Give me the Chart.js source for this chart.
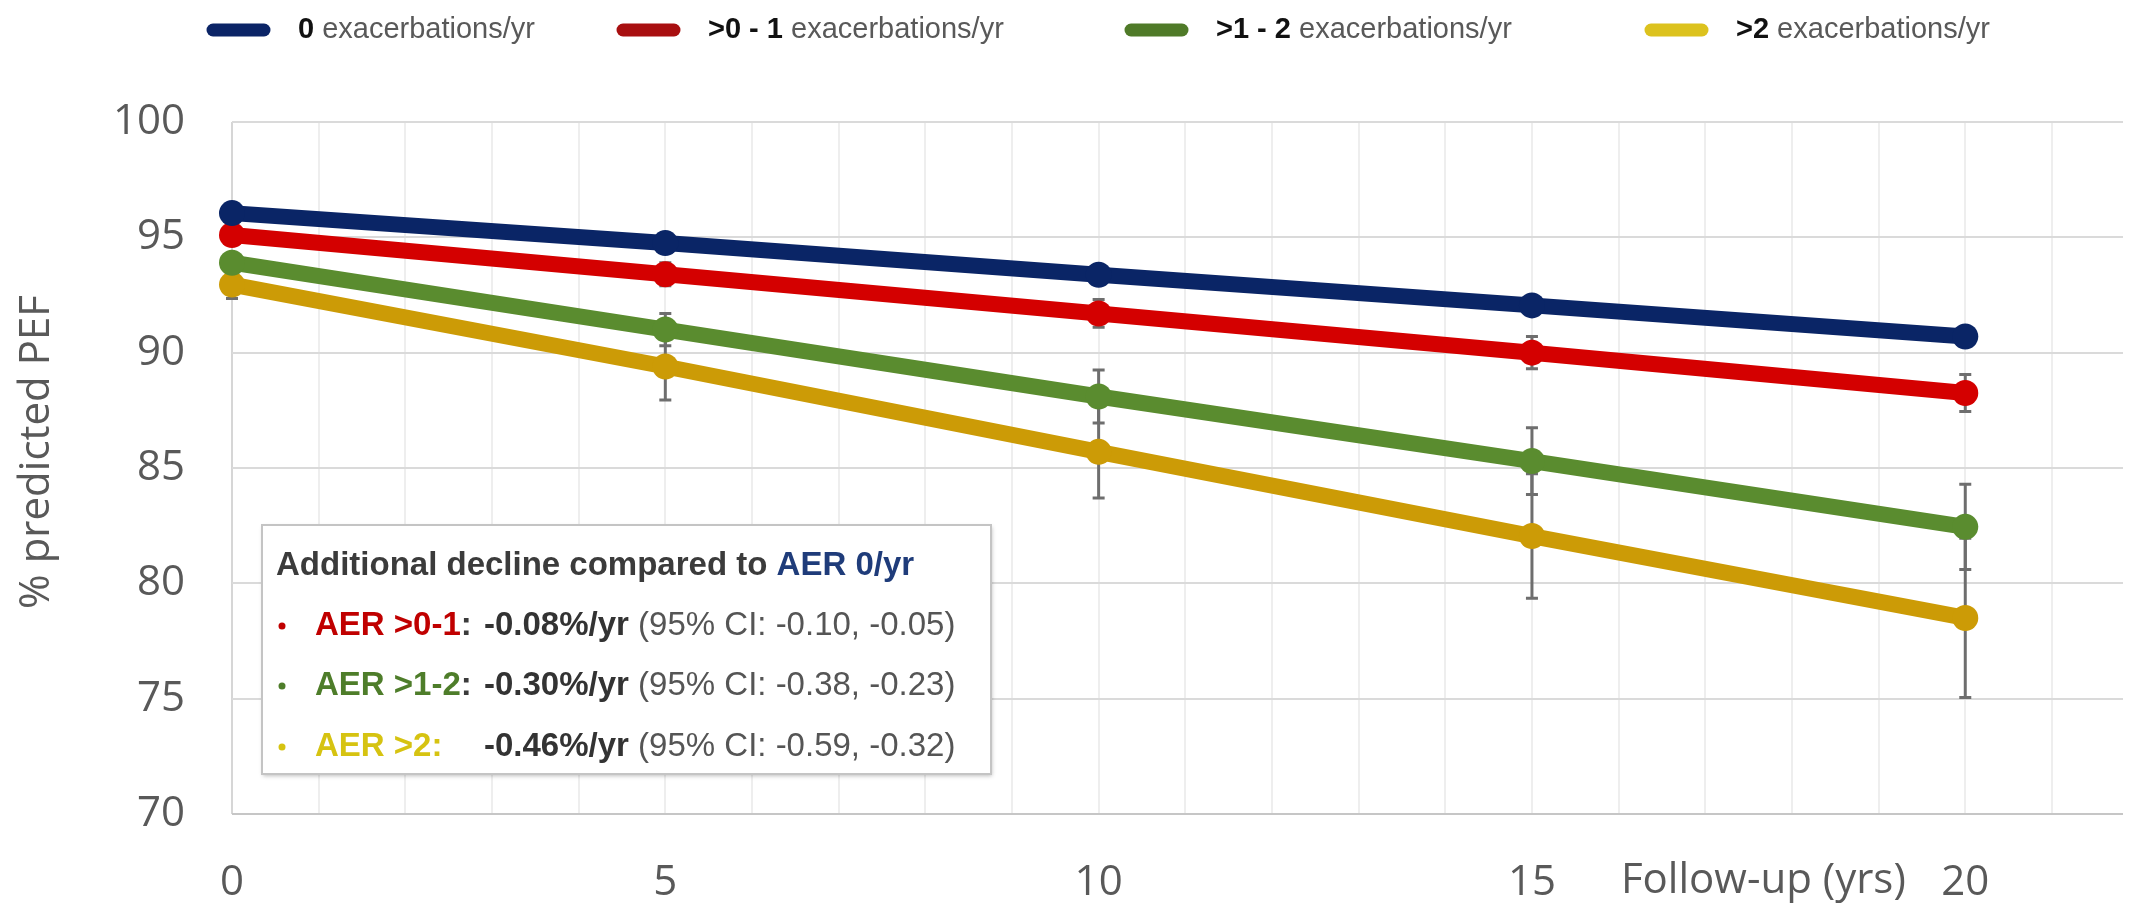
<!DOCTYPE html>
<html>
<head>
<meta charset="utf-8">
<script src="https://cdn.jsdelivr.net/npm/chart.js@4.4.1/dist/chart.umd.min.js"></script>
<style>
  html, body { margin: 0; padding: 0; background: #ffffff; }
  #wrap { width: 2136px; height: 905px; }
</style>
</head>
<body>
<div id="wrap"><canvas id="c" width="2136" height="905"></canvas></div>
<script>
// Follow-up time (years)
const years = [0, 5, 10, 15, 20];

// Legend labels: bold prefix + rest
const groupPrefixes = ['0', '>0 - 1', '>1 - 2', '>2'];
const groupSuffix = ' exacerbations/yr';

// Mean % predicted PEF per exacerbation-rate group
const pefAer0 = [96.05, 94.75, 93.38, 92.05, 90.7];
const pefAer0to1 = [95.1, 93.4, 91.7, 90.0, 88.25];
const pefAer1to2 = [93.9, 91.0, 88.1, 85.3, 82.45];
const pefAerOver2 = [92.95, 89.4, 85.7, 82.05, 78.5];

// Half-widths of the confidence intervals
const ciAer0 = [0.1, 0.25, 0.25, 0.3, 0.35];
const ciAer0to1 = [0.15, 0.5, 0.6, 0.7, 0.8];
const ciAer1to2 = [0.2, 0.7, 1.15, 1.45, 1.85];
const ciAerOver2 = [0.6, 1.45, 2.0, 2.7, 3.45];

// Axis ticks
const yTickValues = [70, 75, 80, 85, 90, 95, 100];
const xLabelValues = [0, 5, 10, 15, 20];

// Inset text: additional decline vs AER 0/yr
const insetTitle = 'Additional decline compared to ';
const insetTitleRef = 'AER 0/yr';
const insetLabels = ['AER >0-1', 'AER >1-2', 'AER >2:'];
const insetSlopes = ['-0.08%/yr', '-0.30%/yr', '-0.46%/yr'];
const insetCIs = ['(95% CI: -0.10, -0.05)', '(95% CI: -0.38, -0.23)', '(95% CI: -0.59, -0.32)'];

const lineColors = ['#0a2566', '#d40000', '#5a8c2f', '#cc9b06'];
const legendColors = ['#0b2466', '#a80f10', '#4f7a28', '#dcc21e'];
const insetColors = ['#c00000', '#4e7d2a', '#d6c311'];

const pefSeries = [pefAer0, pefAer0to1, pefAer1to2, pefAerOver2];
const ciSeries = [ciAer0, ciAer0to1, ciAer1to2, ciAerOver2];

const CAL = '"Open Sans", "Liberation Sans", sans-serif';
const ARIAL = '"Liberation Sans", Arial, sans-serif';

const datasets = pefSeries.map((vals, i) => ({
  label: groupPrefixes[i] + groupSuffix,
  data: years.map((x, k) => ({ x: x, y: vals[k] })),
  borderColor: lineColors[i],
  backgroundColor: lineColors[i],
  borderWidth: 16,
  pointRadius: 13,
  pointHoverRadius: 13,
  pointBorderWidth: 0,
  tension: 0,
  clip: false,
  borderCapStyle: 'round'
}));

// Vertical CI whiskers, drawn under the lines
const errorBars = {
  id: 'errorBars',
  beforeDatasetsDraw(chart) {
    const { ctx, scales: { x, y } } = chart;
    ctx.save();
    ctx.strokeStyle = '#6e6e6e';
    ctx.lineWidth = 3;
    ciSeries.forEach((ci, i) => {
      years.forEach((yr, k) => {
        const px = x.getPixelForValue(yr);
        const top = y.getPixelForValue(pefSeries[i][k] + ci[k]);
        const bot = y.getPixelForValue(pefSeries[i][k] - ci[k]);
        ctx.beginPath();
        ctx.moveTo(px, top); ctx.lineTo(px, bot);
        ctx.moveTo(px - 6, top); ctx.lineTo(px + 6, top);
        ctx.moveTo(px - 6, bot); ctx.lineTo(px + 6, bot);
        ctx.stroke();
      });
    });
    ctx.restore();
  }
};

// Top legend, inset box and axis titles
const decorations = {
  id: 'decorations',
  afterDraw(chart) {
    const { ctx, scales: { x, y } } = chart;
    ctx.save();

    // Legend row
    const legendX = [207, 617, 1125, 1645];
    const legendY = 30;
    groupPrefixes.forEach((p, i) => {
      const lx = legendX[i];
      ctx.strokeStyle = legendColors[i];
      ctx.lineWidth = 13;
      ctx.lineCap = 'round';
      ctx.beginPath();
      ctx.moveTo(lx + 6, legendY);
      ctx.lineTo(lx + 57, legendY);
      ctx.stroke();
      ctx.textBaseline = 'middle';
      ctx.textAlign = 'left';
      ctx.font = 'bold 29px ' + ARIAL;
      ctx.fillStyle = '#111111';
      const tx = lx + 91;
      ctx.fillText(p, tx, legendY);
      const w = ctx.measureText(p).width;
      ctx.font = '29px ' + ARIAL;
      ctx.fillStyle = '#595959';
      ctx.fillText(groupSuffix, tx + w, legendY);
    });

    // Inset box
    const bx = 262, by = 525, bw = 729, bh = 249;
    ctx.save();
    ctx.shadowColor = 'rgba(0,0,0,0.25)';
    ctx.shadowBlur = 4;
    ctx.shadowOffsetX = 1;
    ctx.shadowOffsetY = 2;
    ctx.fillStyle = '#ffffff';
    ctx.fillRect(bx, by, bw, bh);
    ctx.restore();
    ctx.strokeStyle = '#c4c4c4';
    ctx.lineWidth = 2;
    ctx.strokeRect(bx, by, bw, bh);

    ctx.textBaseline = 'middle';
    ctx.textAlign = 'left';
    ctx.font = 'bold 33px ' + ARIAL;
    ctx.fillStyle = '#3b3b3b';
    ctx.fillText(insetTitle, 276, 566);
    const tw = ctx.measureText(insetTitle).width;
    ctx.fillStyle = '#1f3c7a';
    ctx.fillText(insetTitleRef, 276 + tw, 566);

    const rowY = [626, 686, 747];
    insetLabels.forEach((lab, i) => {
      const ry = rowY[i];
      ctx.fillStyle = insetColors[i];
      ctx.beginPath();
      ctx.arc(282, ry, 3.5, 0, Math.PI * 2);
      ctx.fill();
      ctx.font = 'bold 33px ' + ARIAL;
      ctx.fillText(lab, 315, ry);
      if (!lab.endsWith(':')) {
        const lw = ctx.measureText(lab).width;
        ctx.fillStyle = '#3b3b3b';
        ctx.fillText(':', 315 + lw, ry);
      }
      ctx.fillStyle = '#333333';
      ctx.fillText(insetSlopes[i], 484, ry);
      const sw = ctx.measureText(insetSlopes[i] + ' ').width;
      ctx.font = '33px ' + ARIAL;
      ctx.fillStyle = '#555555';
      ctx.fillText(insetCIs[i], 484 + sw, ry);
    });

    // Axis titles
    ctx.fillStyle = '#595959';
    ctx.textAlign = 'center';
    ctx.textBaseline = 'middle';
    ctx.font = '42px ' + CAL;
    ctx.save();
    ctx.translate(37, 452);
    ctx.rotate(-Math.PI / 2);
    ctx.fillText('% predicted PEF', 0, 0);
    ctx.restore();
    ctx.fillText('Follow-up (yrs)', x.getPixelForValue(17.67), 881);

    ctx.restore();
  }
};

new Chart(document.getElementById('c'), {
  type: 'line',
  data: { datasets: datasets },
  plugins: [errorBars, decorations],
  options: {
    responsive: false,
    devicePixelRatio: 1,
    animation: false,
    layout: { padding: { top: 122, right: 0, bottom: 0, left: 0 } },
    plugins: { legend: { display: false }, tooltip: { enabled: false } },
    scales: {
      x: {
        type: 'linear',
        min: 0,
        max: 21.82,
        afterFit(scale) { scale.height = 91; },
        afterBuildTicks(scale) {
          const t = [];
          for (let v = 0; v <= 21; v++) t.push({ value: v });
          scale.ticks = t;
        },
        ticks: {
          autoSkip: false,
          maxRotation: 0,
          padding: 44,
          color: '#595959',
          font: { family: CAL, size: 42 },
          callback: (v) => xLabelValues.includes(v) ? String(v) : ''
        },
        border: { display: false },
        grid: {
          drawTicks: false,
          lineWidth: 2,
          color: (c) => c.tick && c.tick.value === 0 ? '#d6d6d6' : '#eeeeee'
        }
      },
      y: {
        min: 70,
        max: 100,
        afterFit(scale) { scale.width = 232; },
        afterBuildTicks(scale) { scale.ticks = yTickValues.map(v => ({ value: v })); },
        ticks: {
          padding: 47,
          color: '#595959',
          font: { family: CAL, size: 42 }
        },
        border: { display: false },
        grid: {
          drawTicks: false,
          lineWidth: 2,
          color: (c) => c.tick && c.tick.value === 70 ? '#c6c6c6' : '#dadada'
        }
      }
    }
  }
});
</script>
</body>
</html>
